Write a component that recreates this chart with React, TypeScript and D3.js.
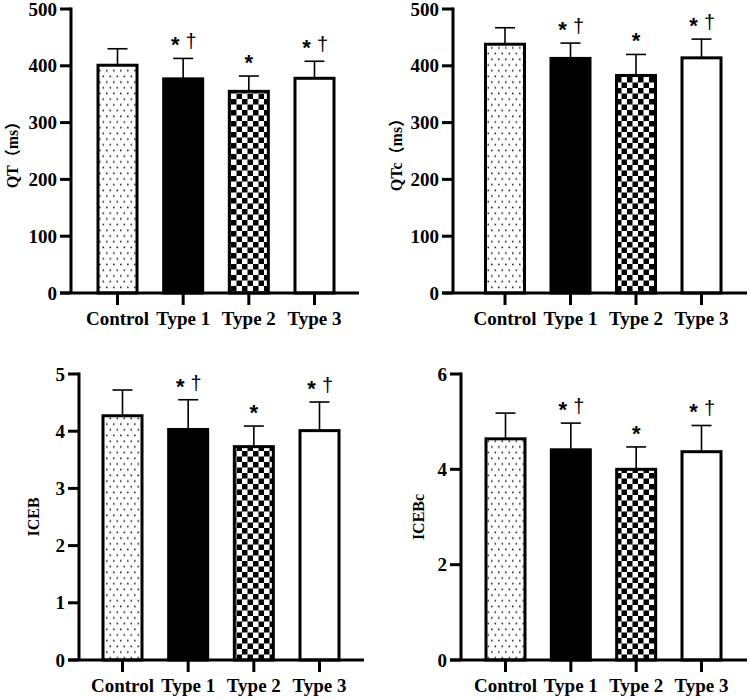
import { useRef, useEffect } from 'react';
import * as d3 from 'd3';

const groups = ['Control', 'Type 1', 'Type 2', 'Type 3'];
const marks = ['', '*†', '*', '*†'];

// mean and SD per group
const qtMean = [401, 377, 355, 378];
const qtSd = [29, 36, 27, 30];
const qtcMean = [438, 413, 383, 414];
const qtcSd = [29, 27, 37, 33];
const icebMean = [4.27, 4.03, 3.73, 4.01];
const icebSd = [0.45, 0.52, 0.36, 0.5];
const icebcMean = [4.64, 4.41, 4.0, 4.37];
const icebcSd = [0.54, 0.56, 0.47, 0.55];

const qtTicks = [0, 100, 200, 300, 400, 500];
const icebTicks = [0, 1, 2, 3, 4, 5];
const icebcTicks = [0, 2, 4, 6];

const fills = ['url(#dots)', '#000', 'url(#checker)', '#fff'];
const serif = '"Liberation Serif", "Times New Roman", "Noto Sans CJK SC", serif';

interface PanelSpec {
  title: string;
  mean: number[];
  sd: number[];
  ticks: number[];
  axisX: number;
  top: number;
  bottom: number;
  first: number;
  last: number;
  xEnd: number;
  titleX: number;
}

const panels: PanelSpec[] = [
  { title: 'QT（ms）', mean: qtMean, sd: qtSd, ticks: qtTicks, axisX: 71, top: 9, bottom: 293, first: 117.5, last: 314.5, xEnd: 359, titleX: 12 },
  { title: 'QTc（ms）', mean: qtcMean, sd: qtcSd, ticks: qtTicks, axisX: 453, top: 9, bottom: 293, first: 505, last: 701.5, xEnd: 747, titleX: 396 },
  { title: 'ICEB', mean: icebMean, sd: icebSd, ticks: icebTicks, axisX: 79, top: 374, bottom: 660, first: 122.5, last: 319.5, xEnd: 364, titleX: 33 },
  { title: 'ICEBc', mean: icebcMean, sd: icebcSd, ticks: icebcTicks, axisX: 461, top: 374, bottom: 660, first: 505.5, last: 701.5, xEnd: 747, titleX: 418 },
];

function drawPanel(svg: d3.Selection<SVGSVGElement, unknown, null, undefined>, p: PanelSpec) {
  const g = svg.append('g');
  const y = d3.scaleLinear()
    .domain([0, p.ticks[p.ticks.length - 1]])
    .range([p.bottom, p.top]);
  const x = d3.scalePoint<string>().domain(groups).range([p.first, p.last]);
  const barW = 39;
  const tickLen = 11;

  // bars
  groups.forEach((name, i) => {
    const cx = x(name)!;
    const top = y(p.mean[i]);
    g.append('rect')
      .attr('x', cx - barW / 2)
      .attr('y', top)
      .attr('width', barW)
      .attr('height', p.bottom - top)
      .attr('fill', fills[i])
      .attr('stroke', '#000')
      .attr('stroke-width', 3);

    // upper error bar only
    const errTop = y(p.mean[i] + p.sd[i]);
    g.append('line')
      .attr('x1', cx).attr('x2', cx)
      .attr('y1', top).attr('y2', errTop)
      .attr('stroke', '#000').attr('stroke-width', 1.6);
    g.append('line')
      .attr('x1', cx - 10).attr('x2', cx + 10)
      .attr('y1', errTop).attr('y2', errTop)
      .attr('stroke', '#000').attr('stroke-width', 1.6);

    // significance marks
    const m = marks[i];
    if (m.includes('*')) {
      g.append('text')
        .attr('x', m.includes('†') ? cx - 8 : cx)
        .attr('y', errTop - 6)
        .attr('text-anchor', 'middle')
        .attr('font-family', '"Liberation Sans", Arial, sans-serif')
        .attr('font-weight', 'bold')
        .attr('font-size', 22)
        .text('*');
    }
    if (m.includes('†')) {
      g.append('text')
        .attr('x', cx + 8)
        .attr('y', errTop - 10)
        .attr('text-anchor', 'middle')
        .attr('font-family', '"Liberation Sans", Arial, sans-serif')
        .attr('font-size', 20)
        .text('†');
    }

    // category tick and label
    g.append('line')
      .attr('x1', cx).attr('x2', cx)
      .attr('y1', p.bottom).attr('y2', p.bottom + 12)
      .attr('stroke', '#000').attr('stroke-width', 3);
    g.append('text')
      .attr('x', cx)
      .attr('y', p.bottom + 32)
      .attr('text-anchor', 'middle')
      .attr('font-family', serif)
      .attr('font-weight', 'bold')
      .attr('font-size', 19)
      .text(name);
  });

  // y axis
  g.append('line')
    .attr('x1', p.axisX).attr('x2', p.axisX)
    .attr('y1', p.top - 1.5).attr('y2', p.bottom)
    .attr('stroke', '#000').attr('stroke-width', 3);
  p.ticks.forEach((t) => {
    g.append('line')
      .attr('x1', p.axisX - tickLen).attr('x2', p.axisX)
      .attr('y1', y(t)).attr('y2', y(t))
      .attr('stroke', '#000').attr('stroke-width', 3);
    g.append('text')
      .attr('x', p.axisX - tickLen - 3)
      .attr('y', y(t))
      .attr('dy', '0.35em')
      .attr('text-anchor', 'end')
      .attr('font-family', serif)
      .attr('font-weight', 'bold')
      .attr('font-size', 19)
      .text(t);
  });

  // x axis
  g.append('line')
    .attr('x1', p.axisX - tickLen).attr('x2', p.xEnd)
    .attr('y1', p.bottom).attr('y2', p.bottom)
    .attr('stroke', '#000').attr('stroke-width', 3);

  // axis title
  const midY = (p.top + p.bottom) / 2;
  g.append('text')
    .attr('transform', `translate(${p.titleX},${midY}) rotate(-90)`)
    .attr('dy', '0.35em')
    .attr('text-anchor', 'middle')
    .attr('font-family', serif)
    .attr('font-weight', 'bold')
    .attr('font-size', 16)
    .text(p.title);
}

export default function App() {
  const svgRef = useRef<SVGSVGElement>(null);

  useEffect(() => {
    if (!svgRef.current) return;
    const svg = d3.select(svgRef.current);
    svg.selectAll('*').remove();

    const defs = svg.append('defs');
    const dots = defs.append('pattern')
      .attr('id', 'dots')
      .attr('patternUnits', 'userSpaceOnUse')
      .attr('width', 7)
      .attr('height', 11.4);
    dots.append('rect').attr('width', 7).attr('height', 11.4).attr('fill', '#fff');
    dots.append('rect').attr('x', 1).attr('y', 1.5).attr('width', 1.6).attr('height', 1.6).attr('fill', '#222');
    dots.append('rect').attr('x', 4.5).attr('y', 7.2).attr('width', 1.6).attr('height', 1.6).attr('fill', '#222');

    const checker = defs.append('pattern')
      .attr('id', 'checker')
      .attr('patternUnits', 'userSpaceOnUse')
      .attr('width', 11)
      .attr('height', 11);
    checker.append('rect').attr('width', 11).attr('height', 11).attr('fill', '#fff');
    checker.append('rect').attr('width', 5.5).attr('height', 5.5).attr('fill', '#000');
    checker.append('rect').attr('x', 5.5).attr('y', 5.5).attr('width', 5.5).attr('height', 5.5).attr('fill', '#000');

    panels.forEach((p) => drawPanel(svg, p));
  }, []);

  return (
    <svg
      ref={svgRef}
      width={750}
      height={699}
      style={{ position: 'absolute', left: 0, top: 0, background: '#fff' }}
    />
  );
}
